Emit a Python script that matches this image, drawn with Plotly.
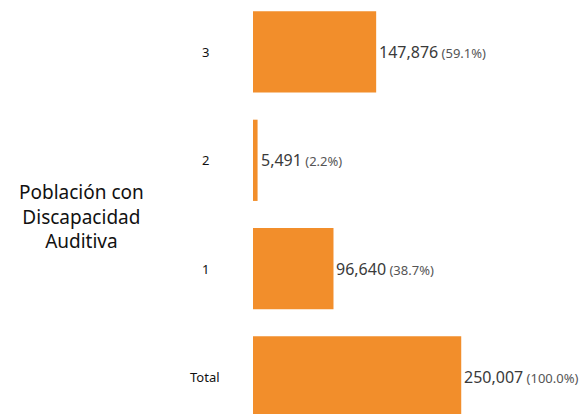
import plotly.graph_objects as go

categories = ["Total", "1", "2", "3"]
values = [250007, 96640, 5491, 147876]
percents = [100.0, 38.7, 2.2, 59.1]
title_lines = ["Población con", "Discapacidad", "Auditiva"]

W, H = 582, 414
L = 253
plot_w = W - L

fig = go.Figure(go.Bar(
    x=values, y=categories, orientation="h",
    marker=dict(color="#F28E2B", line=dict(width=0)),
    width=0.75, hoverinfo="skip",
))

ann = []
for c, v, p in zip(categories, values, percents):
    ann.append(dict(
        x=v, y=c, xref="x", yref="y", xanchor="left", yanchor="middle",
        xshift=1, showarrow=False,
        text=f"<span style='font-size:16px;color:#3a3a3a'>{v:,}</span>"
             f"<span style='font-size:13px;color:#555555'> ({p:.1f}%)</span>",
        font=dict(family="Noto Sans", size=16, color="#3a3a3a"),
    ))
    ann.append(dict(
        x=(205 - L) / plot_w, y=c, xref="paper", yref="y",
        xanchor="center", yanchor="middle", showarrow=False,
        text=c, font=dict(family="Noto Sans", size=13, color="#111111"),
    ))

ann.append(dict(
    x=(81 - L) / plot_w, y=1 - 216 / H, xref="paper", yref="paper",
    xanchor="center", yanchor="middle", showarrow=False,
    text="<br>".join(title_lines), align="center",
    font=dict(family="Noto Sans", size=19, color="#111111"),
))

fig.update_layout(
    width=W, height=H,
    margin=dict(l=L, r=0, t=0, b=0, autoexpand=False),
    paper_bgcolor="white", plot_bgcolor="white",
    showlegend=False,
    xaxis=dict(range=[0, 395000], visible=False, fixedrange=True),
    yaxis=dict(type="category", categoryorder="array", categoryarray=categories,
               range=[-0.342, 3.48], visible=False, fixedrange=True),
    annotations=ann,
    bargap=0.25,
)

fig.write_html("out.html", config={"displayModeBar": False},
               post_script="document.body.style.margin='0';document.body.style.overflow='hidden';")
